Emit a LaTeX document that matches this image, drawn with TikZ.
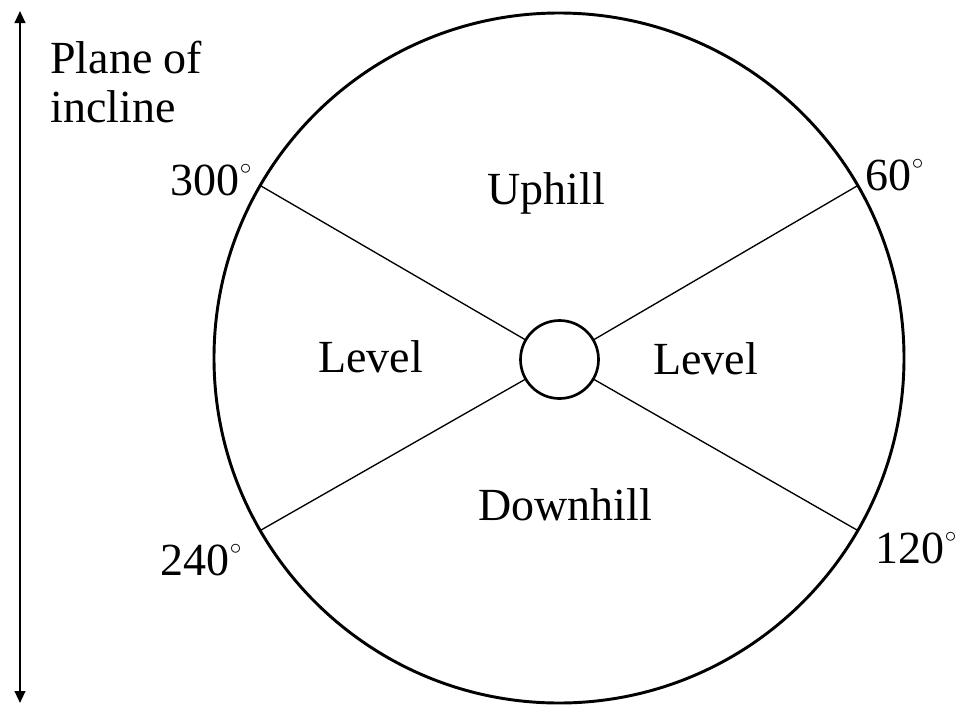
\documentclass[tikz,border=0pt]{standalone}
\usepackage{fontspec}
\setmainfont{Liberation Serif}
\usetikzlibrary{arrows.meta}
\newcommand{\dg}{\kern0.5pt\raisebox{15.5pt}{\fontsize{17}{17}\selectfont$\circ$}}
\begin{document}
\begin{tikzpicture}[x=0.75pt,y=-0.75pt,
  lbl/.style={anchor=base west,inner sep=0pt,font=\fontsize{34.5}{36.75}\selectfont},
  ring/.style={draw,circle,inner sep=0pt,outer sep=0pt},
  spoke/.style={line width=1pt}]
\useasboundingbox (0,0) rectangle (959,707);
\node[ring,line width=2.2pt,minimum size=517.5pt] (big) at (559,358) {};
\node[ring,line width=2pt,minimum size=58.5pt] (hub) at (559.5,359.5) {};
\draw[spoke] (hub.30) -- (big.30);
\draw[spoke] (hub.150) -- (big.150);
\draw[spoke] (hub.210) -- (big.210);
\draw[spoke] (hub.330) -- (big.330);
\coordinate (atop) at (20,11);
\coordinate (abot) at (20,703);
\draw[line width=1.5pt,{Triangle[width=8pt,length=9pt]}-{Triangle[width=8pt,length=9pt]}] (atop) -- (abot);
\node[lbl] (plane) at (50,73) {Plane of};
\node[lbl] (incl) at (50,122) {incline};
\node[lbl] (d300) at (170,195) {300\dg};
\node[lbl] (d60) at (865,190) {60\dg};
\node[lbl] (d120) at (875,563) {120\dg};
\node[lbl] (d240) at (160,575) {240\dg};
\node[lbl] (up) at (487,204) {Uphill};
\node[lbl] (lvl1) at (318,372) {Level};
\node[lbl] (lvl2) at (653,374) {Level};
\node[lbl] (down) at (478,520) {Downhill};
\end{tikzpicture}
\end{document}
